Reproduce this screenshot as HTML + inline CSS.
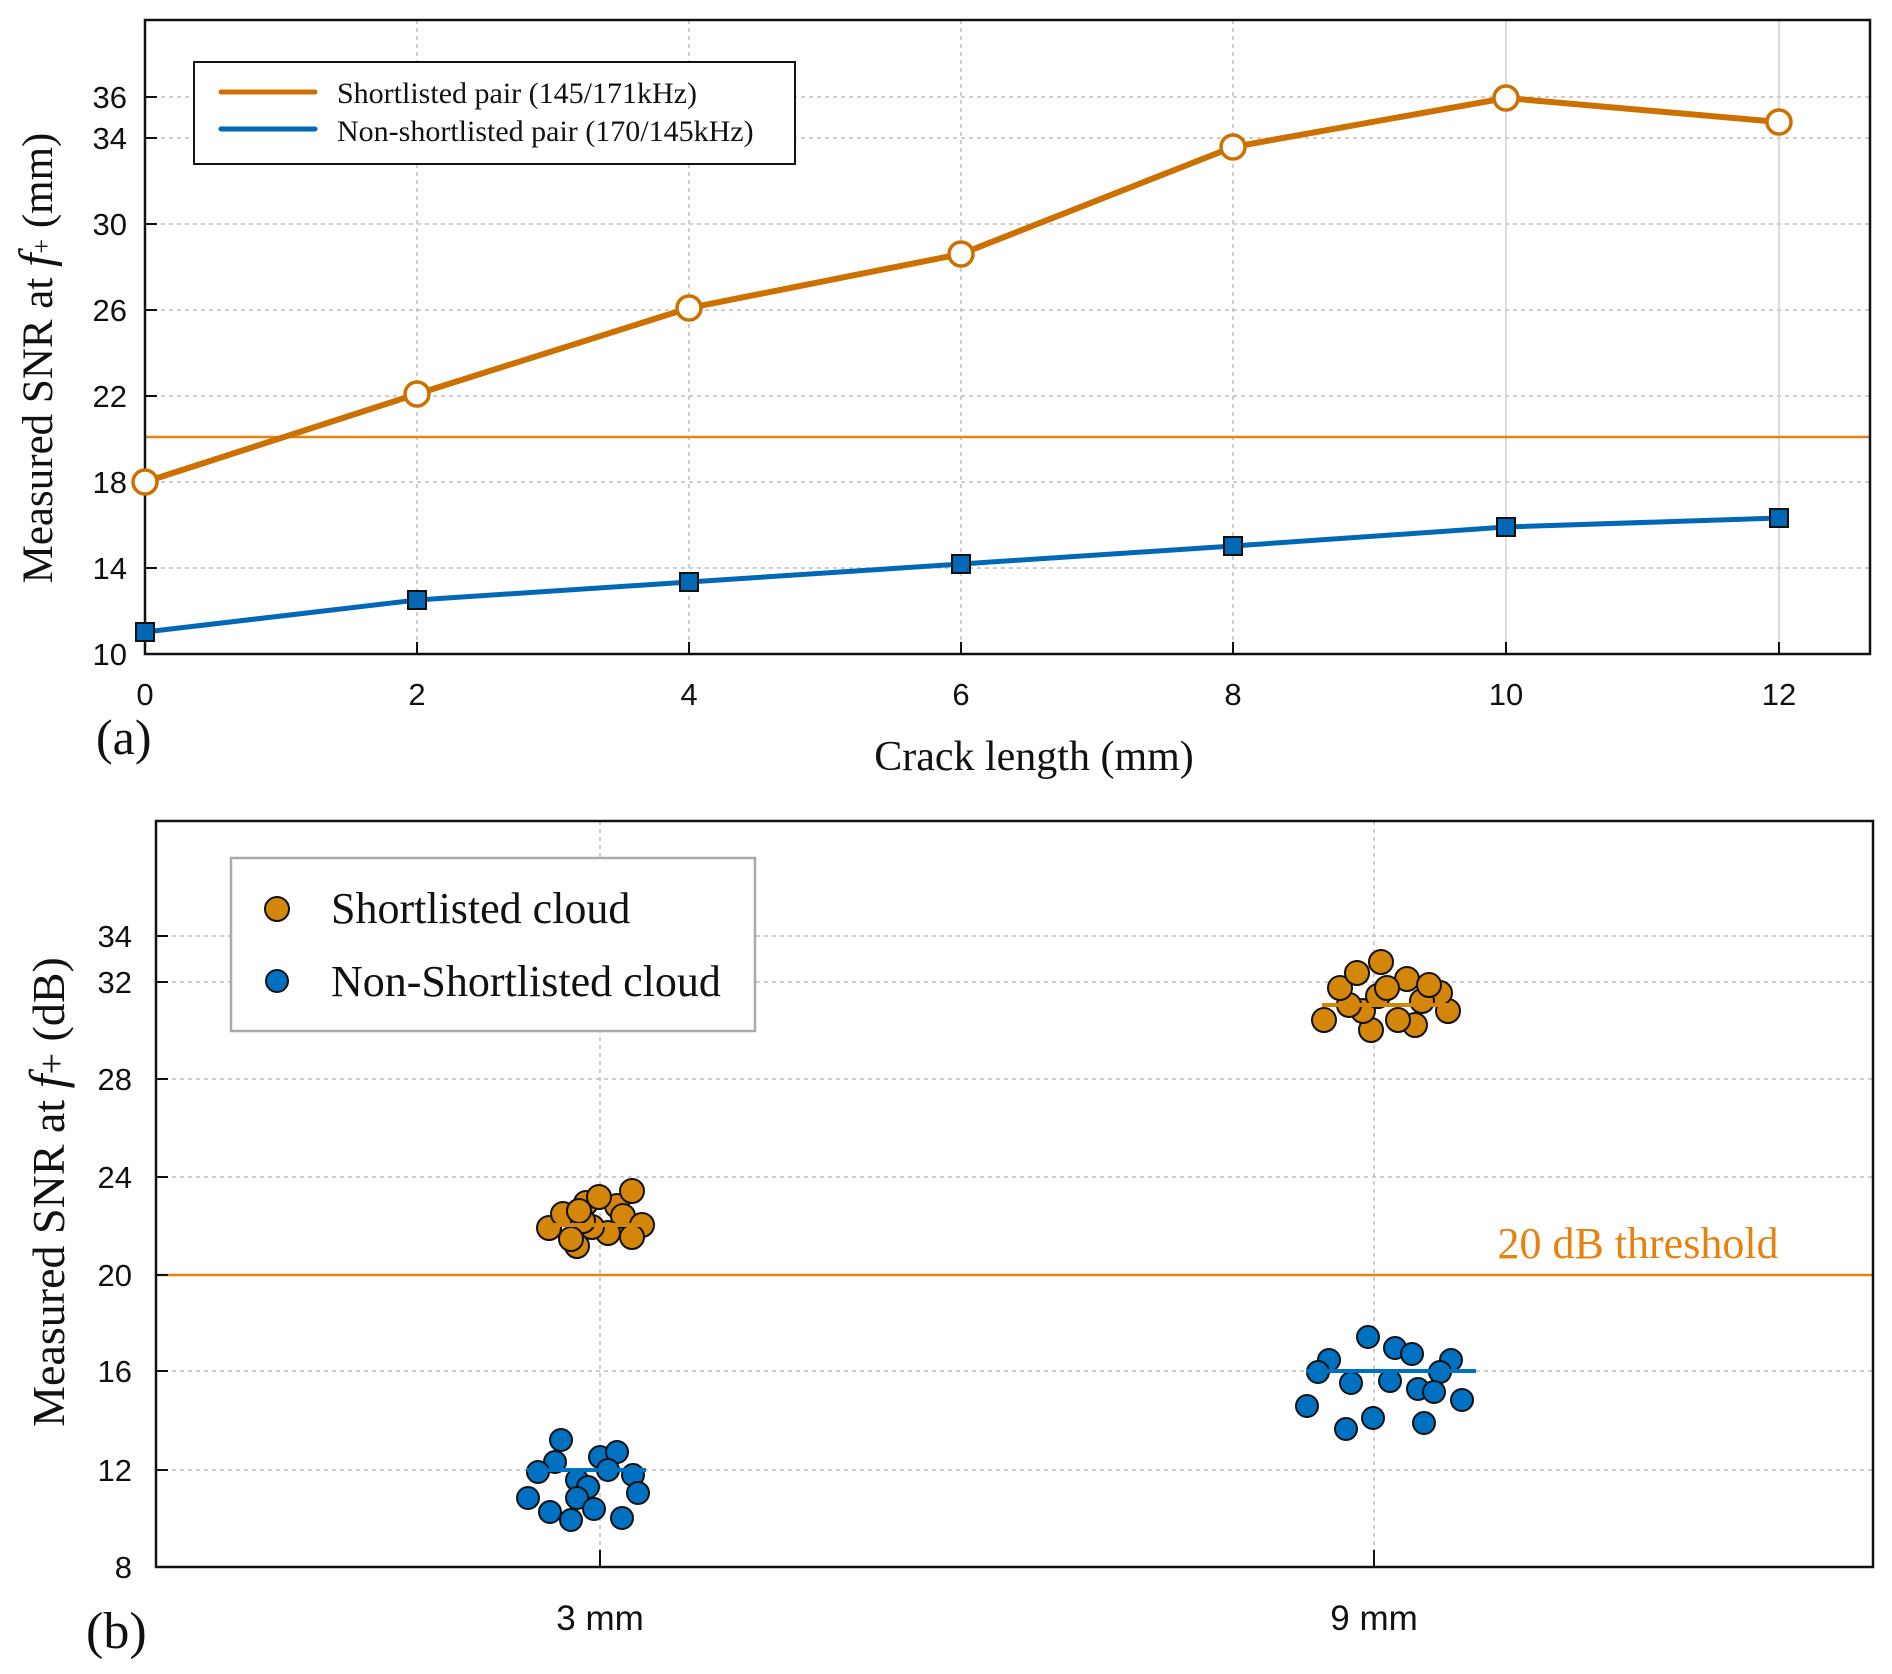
<!DOCTYPE html>
<html><head><meta charset="utf-8"><style>
html,body{margin:0;padding:0;background:#fff}
svg{display:block}
.t{font-family:"Liberation Sans",Arial,sans-serif;font-size:31px;fill:#111}
.s{font-family:"Liberation Serif","Times New Roman",serif;fill:#111}
</style></head><body>
<svg width="1892" height="1674" viewBox="0 0 1892 1674" xmlns="http://www.w3.org/2000/svg">
<!-- ===== TOP PLOT ===== -->
<g stroke="#bdbdbd" stroke-width="1.5" stroke-dasharray="4,4">
<line x1="145" y1="97" x2="1870" y2="97"/><line x1="145" y1="138" x2="1870" y2="138"/>
<line x1="145" y1="224" x2="1870" y2="224"/><line x1="145" y1="310" x2="1870" y2="310"/>
<line x1="145" y1="396" x2="1870" y2="396"/><line x1="145" y1="482" x2="1870" y2="482"/>
<line x1="145" y1="568" x2="1870" y2="568"/>
<line x1="417" y1="20" x2="417" y2="654"/><line x1="689" y1="20" x2="689" y2="654"/>
<line x1="961" y1="20" x2="961" y2="654"/><line x1="1233" y1="20" x2="1233" y2="654"/>
</g>
<g stroke="#d0d0d0" stroke-width="1.5">
<line x1="1506" y1="20" x2="1506" y2="654"/><line x1="1779" y1="20" x2="1779" y2="654"/>
</g>
<line x1="145" y1="437" x2="1870" y2="437" stroke="#E8820E" stroke-width="2.5"/>
<rect x="145" y="20" width="1725" height="634" fill="none" stroke="#111" stroke-width="2.5"/>
<g stroke="#111" stroke-width="2">
<line x1="145" y1="97" x2="157" y2="97"/><line x1="145" y1="138" x2="157" y2="138"/>
<line x1="145" y1="224" x2="157" y2="224"/><line x1="145" y1="310" x2="157" y2="310"/>
<line x1="145" y1="396" x2="157" y2="396"/><line x1="145" y1="482" x2="157" y2="482"/>
<line x1="145" y1="568" x2="157" y2="568"/>
<line x1="417" y1="654" x2="417" y2="642"/><line x1="689" y1="654" x2="689" y2="642"/>
<line x1="961" y1="654" x2="961" y2="642"/><line x1="1233" y1="654" x2="1233" y2="642"/>
<line x1="1506" y1="654" x2="1506" y2="642"/><line x1="1779" y1="654" x2="1779" y2="642"/>
</g>
<g class="t" text-anchor="end">
<text x="127" y="108">36</text><text x="127" y="149">34</text><text x="127" y="235">30</text>
<text x="127" y="321">26</text><text x="127" y="407">22</text><text x="127" y="493">18</text>
<text x="127" y="579">14</text><text x="127" y="665">10</text>
</g>
<g class="t" text-anchor="middle">
<text x="145" y="705">0</text><text x="417" y="705">2</text><text x="689" y="705">4</text>
<text x="961" y="705">6</text><text x="1233" y="705">8</text><text x="1506" y="705">10</text><text x="1779" y="705">12</text>
</g>
<polyline points="145,632 417,600 689,582 961,564 1233,546 1506,527 1779,518" fill="none" stroke="#0068B5" stroke-width="5"/>
<g fill="#0068B5" stroke="#111" stroke-width="2">
<rect x="136" y="623" width="18" height="18"/><rect x="408" y="591" width="18" height="18"/>
<rect x="680" y="573" width="18" height="18"/><rect x="952" y="555" width="18" height="18"/>
<rect x="1224" y="537" width="18" height="18"/><rect x="1497" y="518" width="18" height="18"/>
<rect x="1770" y="509" width="18" height="18"/>
</g>
<polyline points="145,482 417,394 689,308 961,254 1233,147 1506,98 1779,122" fill="none" stroke="#CC7000" stroke-width="6"/>
<g fill="#fff" stroke="#CC7000" stroke-width="3.5">
<circle cx="145" cy="482" r="12"/><circle cx="417" cy="394" r="12"/><circle cx="689" cy="308" r="12"/>
<circle cx="961" cy="254" r="12"/><circle cx="1233" cy="147" r="12"/><circle cx="1506" cy="98" r="12"/>
<circle cx="1779" cy="122" r="12"/>
</g>
<rect x="194" y="62" width="601" height="102" fill="#fff" stroke="#111" stroke-width="2"/>
<line x1="221" y1="92" x2="315" y2="92" stroke="#CC7000" stroke-width="5" stroke-linecap="round"/>
<line x1="221" y1="129" x2="315" y2="129" stroke="#0068B5" stroke-width="5" stroke-linecap="round"/>
<text class="s" x="337" y="103" font-size="30">Shortlisted pair (145/171kHz)</text>
<text class="s" x="337" y="141" font-size="30">Non-shortlisted pair (170/145kHz)</text>
<text class="s" font-size="43" transform="translate(52,358) rotate(-90)" text-anchor="middle">Measured SNR at <tspan font-style="italic" font-size="48">f</tspan><tspan font-size="26" dy="-2">+</tspan><tspan dy="2"> (mm)</tspan></text>
<text class="s" x="96" y="754" font-size="50">(a)</text>
<text class="s" x="1034" y="770" font-size="42" text-anchor="middle">Crack length (mm)</text>

<!-- ===== BOTTOM PLOT ===== -->
<g stroke="#bdbdbd" stroke-width="1.5" stroke-dasharray="4,4">
<line x1="156" y1="936" x2="1873" y2="936"/><line x1="156" y1="982" x2="1873" y2="982"/>
<line x1="156" y1="1079" x2="1873" y2="1079"/><line x1="156" y1="1177" x2="1873" y2="1177"/>
<line x1="156" y1="1371" x2="1873" y2="1371"/><line x1="156" y1="1470" x2="1873" y2="1470"/>
<line x1="600" y1="821" x2="600" y2="1567"/><line x1="1374" y1="821" x2="1374" y2="1567"/>
</g>
<line x1="156" y1="1275" x2="1873" y2="1275" stroke="#E8820E" stroke-width="2.5"/>
<rect x="156" y="821" width="1717" height="746" fill="none" stroke="#111" stroke-width="2.5"/>
<g stroke="#111" stroke-width="2">
<line x1="156" y1="936" x2="168" y2="936"/><line x1="156" y1="982" x2="168" y2="982"/>
<line x1="156" y1="1079" x2="168" y2="1079"/><line x1="156" y1="1177" x2="168" y2="1177"/>
<line x1="156" y1="1275" x2="168" y2="1275"/><line x1="156" y1="1371" x2="168" y2="1371"/>
<line x1="156" y1="1470" x2="168" y2="1470"/>
<line x1="600" y1="1567" x2="600" y2="1550"/><line x1="1374" y1="1567" x2="1374" y2="1550"/>
</g>
<g class="t" text-anchor="end">
<text x="132" y="947">34</text><text x="132" y="993">32</text><text x="132" y="1090">28</text>
<text x="132" y="1188">24</text><text x="132" y="1286">20</text><text x="132" y="1382">16</text>
<text x="132" y="1481">12</text><text x="132" y="1578">8</text>
</g>
<g class="t" text-anchor="middle">
<text x="600" y="1630" style="font-size:35px">3 mm</text><text x="1374" y="1630" style="font-size:35px">9 mm</text>
</g>
<text x="1638" y="1258" font-size="44" text-anchor="middle" class="s" style="fill:#E8820E">20 dB threshold</text>
<g fill="#D4860B" stroke="#111" stroke-width="2">
<circle cx="549" cy="1228" r="12"/><circle cx="563" cy="1214" r="12"/><circle cx="579" cy="1211" r="12"/>
<circle cx="586" cy="1203" r="12"/><circle cx="617" cy="1206" r="12"/><circle cx="623" cy="1216" r="12"/>
<circle cx="642" cy="1225" r="12"/><circle cx="632" cy="1237" r="12"/><circle cx="608" cy="1233" r="12"/>
<circle cx="592" cy="1227" r="12"/><circle cx="577" cy="1246" r="12"/><circle cx="583" cy="1221" r="12"/>
<circle cx="571" cy="1239" r="12"/><circle cx="599" cy="1197" r="12"/><circle cx="632" cy="1191" r="12"/>
<circle cx="579" cy="1211" r="12"/>
<circle cx="1324" cy="1020" r="12"/><circle cx="1371" cy="1030" r="12"/><circle cx="1415" cy="1025" r="12"/>
<circle cx="1398" cy="1020" r="12"/><circle cx="1448" cy="1011" r="12"/><circle cx="1440" cy="993" r="12"/>
<circle cx="1422" cy="1001" r="12"/><circle cx="1363" cy="1011" r="12"/><circle cx="1378" cy="996" r="12"/>
<circle cx="1349" cy="1005" r="12"/><circle cx="1340" cy="988" r="12"/><circle cx="1357" cy="973" r="12"/>
<circle cx="1407" cy="979" r="12"/><circle cx="1429" cy="985" r="12"/><circle cx="1387" cy="988" r="12"/>
<circle cx="1381" cy="962" r="12"/>
</g>
<line x1="550" y1="1225" x2="641" y2="1225" stroke="#D4860B" stroke-width="4"/>
<line x1="1322" y1="1005" x2="1448" y2="1005" stroke="#D4860B" stroke-width="4"/>
<g fill="#0070C0" stroke="#111" stroke-width="2">
<circle cx="561" cy="1440" r="11"/><circle cx="555" cy="1462" r="11"/><circle cx="538" cy="1472" r="11"/>
<circle cx="600" cy="1457" r="11"/><circle cx="617" cy="1452" r="11"/><circle cx="608" cy="1470" r="11"/>
<circle cx="633" cy="1475" r="11"/><circle cx="577" cy="1480" r="11"/><circle cx="588" cy="1487" r="11"/>
<circle cx="638" cy="1493" r="11"/><circle cx="528" cy="1498" r="11"/><circle cx="577" cy="1498" r="11"/>
<circle cx="594" cy="1509" r="11"/><circle cx="550" cy="1512" r="11"/><circle cx="571" cy="1520" r="11"/>
<circle cx="622" cy="1518" r="11"/>
<circle cx="1368" cy="1337" r="11"/><circle cx="1395" cy="1348" r="11"/><circle cx="1412" cy="1354" r="11"/>
<circle cx="1451" cy="1360" r="11"/><circle cx="1329" cy="1360" r="11"/><circle cx="1318" cy="1372" r="11"/>
<circle cx="1440" cy="1372" r="11"/><circle cx="1351" cy="1383" r="11"/><circle cx="1390" cy="1381" r="11"/>
<circle cx="1418" cy="1389" r="11"/><circle cx="1434" cy="1392" r="11"/><circle cx="1462" cy="1400" r="11"/>
<circle cx="1307" cy="1406" r="11"/><circle cx="1373" cy="1418" r="11"/><circle cx="1346" cy="1429" r="11"/>
<circle cx="1424" cy="1423" r="11"/>
</g>
<line x1="527" y1="1470" x2="646" y2="1470" stroke="#0070C0" stroke-width="4"/>
<line x1="1306" y1="1371" x2="1476" y2="1371" stroke="#0070C0" stroke-width="4"/>
<rect x="231" y="858" width="524" height="173" fill="#fff" stroke="#aaa" stroke-width="2.5"/>
<circle cx="277" cy="909" r="12" fill="#D4860B" stroke="#111" stroke-width="2"/>
<circle cx="277" cy="981" r="11" fill="#0070C0" stroke="#111" stroke-width="2"/>
<text class="s" x="331" y="923" font-size="44">Shortlisted cloud</text>
<text class="s" x="331" y="996" font-size="44">Non-Shortlisted cloud</text>
<text class="s" font-size="46" transform="translate(64,1192) rotate(-90)" text-anchor="middle">Measured SNR at <tspan font-style="italic" font-size="50">f</tspan><tspan font-size="38">+</tspan> (dB)</text>
<text class="s" x="86" y="1648" font-size="52">(b)</text>
</svg>
</body></html>
